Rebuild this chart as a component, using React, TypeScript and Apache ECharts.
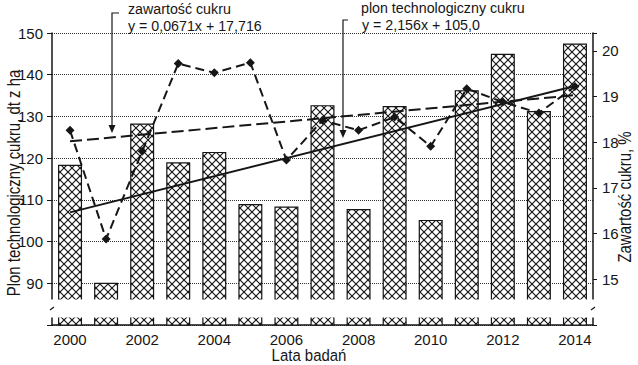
import React, { useEffect, useRef } from 'react';
import * as echarts from 'echarts';

const years = ['2000', '2001', '2002', '2003', '2004', '2005', '2006', '2007', '2008', '2009', '2010', '2011', '2012', '2013', '2014'];
const yieldValues = [118.4, 90.1, 128.3, 119.0, 121.5, 109.0, 108.4, 132.7, 107.8, 132.5, 105.2, 136.3, 145.0, 131.3, 147.5];
const sugarValues = [18.26, 15.88, 17.8, 19.72, 19.52, 19.74, 17.61, 18.48, 18.26, 18.55, 17.91, 19.17, 18.88, 18.64, 19.22];
const yieldTrendEnds = [107.0, 137.3];
const sugarTrendEnds = [18.02, 19.03];
const leftTicks = [90, 100, 110, 120, 130, 140, 150];
const rightTicks = [15, 16, 17, 18, 19, 20];
// broken-axis band (left-axis values)
const axisBreak = [81.8, 86.1];

const FONT = "'Liberation Sans', Arial, sans-serif";
const INK = '#161616';

function endsToSeries(ends: number[], n: number) {
  const arr: (number | null)[] = new Array(n).fill(null);
  arr[0] = ends[0];
  arr[n - 1] = ends[1];
  return arr;
}

function makeHatch() {
  const c = document.createElement('canvas');
  c.width = 8;
  c.height = 8;
  const ctx = c.getContext('2d')!;
  ctx.fillStyle = '#ffffff';
  ctx.fillRect(0, 0, 8, 8);
  ctx.strokeStyle = '#111111';
  ctx.lineWidth = 1.1;
  ctx.beginPath();
  ctx.moveTo(0, 0);
  ctx.lineTo(8, 8);
  ctx.moveTo(8, 0);
  ctx.lineTo(0, 8);
  ctx.stroke();
  return c;
}

export default function App() {
  const ref = useRef<HTMLDivElement>(null);
  useEffect(() => {
    document.body.style.margin = '0';
    const chart = echarts.init(ref.current!, null, { renderer: 'svg' });
    const hatch = makeHatch();
    const n = years.length;
    const annot = (text: string, x: number, y: number) => ({
      type: 'text',
      x,
      y,
      scaleX: 0.95,
      z: 60,
      style: { text, fontSize: 15, fontFamily: FONT, fill: INK, textAlign: 'left', textVerticalAlign: 'middle' },
    });
    chart.setOption({
      animation: false,
      backgroundColor: '#ffffff',
      grid: { left: 52, right: 45, top: 33, bottom: 40, containLabel: false },
      xAxis: {
        type: 'category',
        data: years,
        axisLine: { lineStyle: { color: INK, width: 1.5 } },
        axisTick: { show: false },
        axisLabel: { interval: 1, margin: 7, fontSize: 15, fontFamily: FONT, color: INK },
      },
      yAxis: [
        {
          type: 'value',
          min: 80,
          max: 150,
          interval: 10,
          axisLine: { show: true, lineStyle: { color: INK, width: 1.5 } },
          axisTick: { show: true, length: 5, lineStyle: { color: INK } },
          axisLabel: {
            margin: 9,
            fontSize: 15,
            fontFamily: FONT,
            color: INK,
            formatter: (v: number) => (leftTicks.includes(v) ? String(v) : ''),
          },
          splitLine: { show: true, lineStyle: { color: '#333', type: 'dotted', width: 1 } },
        },
        {
          type: 'value',
          position: 'right',
          min: 14,
          max: 20.39,
          interval: 1,
          axisLine: { show: true, lineStyle: { color: INK, width: 1.5 } },
          axisTick: { show: true, length: 4, lineStyle: { color: INK } },
          axisLabel: {
            margin: 9,
            fontSize: 15,
            fontFamily: FONT,
            color: INK,
            formatter: (v: number) => (rightTicks.includes(v) ? String(v) : ''),
          },
          splitLine: { show: false },
        },
      ],
      series: [
        {
          name: 'Plon technologiczny cukru',
          type: 'bar',
          yAxisIndex: 0,
          data: yieldValues,
          barWidth: 24,
          itemStyle: {
            color: { image: hatch, repeat: 'repeat', imageWidth: 8, imageHeight: 8 },
            borderColor: INK,
            borderWidth: 1.2,
          },
          z: 2,
        },
        {
          name: 'Zawartość cukru',
          type: 'line',
          yAxisIndex: 1,
          data: sugarValues,
          symbol: 'diamond',
          symbolSize: 9,
          itemStyle: { color: INK },
          lineStyle: { color: INK, width: 2, type: [9, 5] },
          z: 6,
        },
        {
          name: 'Trend plonu',
          type: 'line',
          yAxisIndex: 0,
          data: endsToSeries(yieldTrendEnds, n),
          connectNulls: true,
          showSymbol: false,
          symbol: 'none',
          lineStyle: { color: INK, width: 2, type: 'solid' },
          z: 7,
        },
        {
          name: 'Trend zawartości',
          type: 'line',
          yAxisIndex: 1,
          data: endsToSeries(sugarTrendEnds, n),
          connectNulls: true,
          showSymbol: false,
          symbol: 'none',
          lineStyle: { color: INK, width: 2, type: [12, 5] },
          z: 7,
        },
      ],
    });

    const yA = chart.convertToPixel({ yAxisIndex: 0 }, axisBreak[1]) as number;
    const yB = chart.convertToPixel({ yAxisIndex: 0 }, axisBreak[0]) as number;
    const xL = chart.convertToPixel({ xAxisIndex: 0 }, years[0]) as number;
    const xR = chart.convertToPixel({ xAxisIndex: 0 }, years[n - 1]) as number;
    const half = (xR - xL) / (n - 1) / 2;
    const axL = xL - half;
    const axR = xR + half;
    const yMid = (yA + yB) / 2;

    chart.setOption({
      graphic: [
        { type: 'rect', z: 50, shape: { x: axL - 4, y: yA, width: axR - axL + 8, height: yB - yA }, style: { fill: '#ffffff' } },
        { type: 'line', z: 51, shape: { x1: axL - 2, y1: yMid + 1.5, x2: axL + 2, y2: yMid - 1.5 }, style: { stroke: INK, lineWidth: 1.2 } },
        { type: 'line', z: 51, shape: { x1: axR - 2, y1: yMid + 1.5, x2: axR + 2, y2: yMid - 1.5 }, style: { stroke: INK, lineWidth: 1.2 } },
        annot('zawartość cukru', 128, 9),
        annot('y = 0,0671x + 17,716', 128, 26),
        { type: 'polyline', z: 60, shape: { points: [[119, 13], [112, 13], [112, 126]] }, style: { stroke: INK, lineWidth: 1.2, fill: null } },
        { type: 'polygon', z: 60, shape: { points: [[108.5, 125], [115.5, 125], [112, 133]] }, style: { fill: INK } },
        annot('plon technologiczny cukru', 361, 8),
        annot('y = 2,156x + 105,0', 362, 25),
        { type: 'polyline', z: 60, shape: { points: [[348, 20], [343, 20], [343, 131]] }, style: { stroke: INK, lineWidth: 1.2, fill: null } },
        { type: 'polygon', z: 60, shape: { points: [[339.5, 130], [346.5, 130], [343, 138]] }, style: { fill: INK } },
        { type: 'text', z: 60, x: 14, y: 183, rotation: Math.PI / 2, scaleX: 0.83, style: { text: 'Plon technologiczny cukru, dt z ha', fontSize: 18, fontFamily: FONT, fill: INK, textAlign: 'center', textVerticalAlign: 'middle' } },
        { type: 'text', z: 60, x: 625, y: 197, rotation: Math.PI / 2, scaleX: 0.83, style: { text: 'Zawartość cukru, %', fontSize: 18, fontFamily: FONT, fill: INK, textAlign: 'center', textVerticalAlign: 'middle' } },
        { type: 'text', z: 60, x: 309, y: 355, scaleX: 0.88, style: { text: 'Lata badań', fontSize: 17, fontFamily: FONT, fill: INK, textAlign: 'center', textVerticalAlign: 'middle' } },
      ],
    });
    return () => chart.dispose();
  }, []);
  return <div ref={ref} style={{ width: 638, height: 365 }} />;
}
